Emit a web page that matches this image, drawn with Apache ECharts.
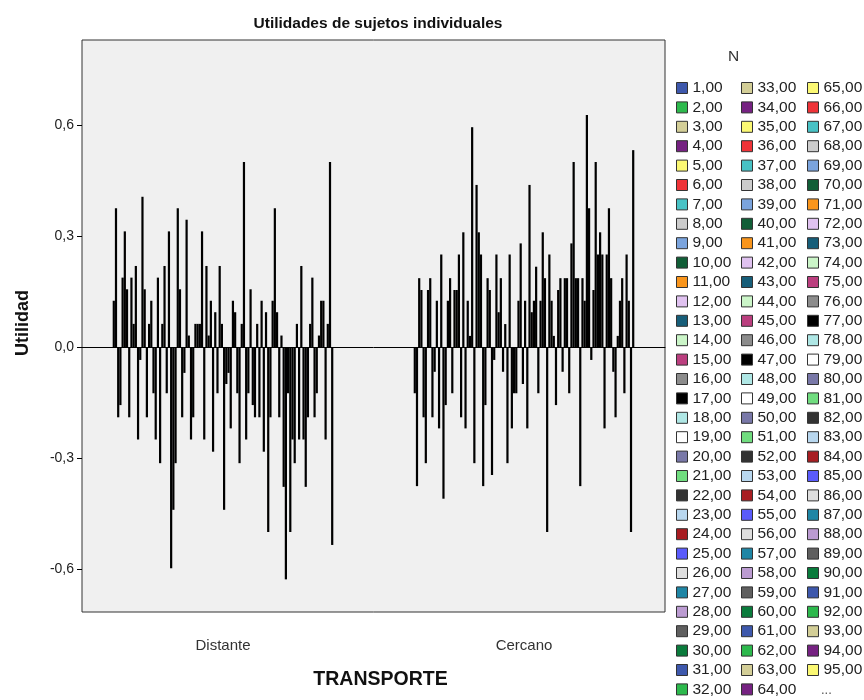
<!DOCTYPE html>
<html><head><meta charset="utf-8">
<script src="https://cdn.jsdelivr.net/npm/echarts@6/dist/echarts.min.js"></script>
<style>html,body{margin:0;padding:0;background:#fff}#c{width:864px;height:700px}</style>
</head><body><div id="c"></div>
<script>
const categories = ['Distante', 'Cercano'];
const subjects = Array.from({length: 100}, (_, i) => i + 1);
const distante = [
  0.125, 0.375, -0.19, -0.157, 0.1875, 0.3125, 0.156, -0.19, 0.1875, 0.0625,
  0.219, -0.25, -0.035, 0.406, 0.156, -0.19, 0.0625, 0.125, -0.125, -0.25,
  0.1875, -0.314, 0.0625, 0.219, -0.125, 0.3125, -0.598, -0.44, -0.314, 0.375,
  0.156, -0.19, -0.07, 0.344, 0.031, -0.25, -0.19, 0.0625, 0.0625, 0.0625,
  0.3125, -0.25, 0.219, 0.031, 0.125, -0.283, 0.094, -0.125, 0.219, 0.0625,
  -0.44, -0.1, -0.07, -0.22, 0.125, 0.094, -0.125, -0.314, 0.0625, 0.5,
  -0.25, -0.125, 0.156, -0.157, -0.19, 0.0625, -0.19, 0.125, -0.283, 0.094,
  -0.5, -0.19, 0.125, 0.375, 0.094, -0.19, 0.031, -0.378, -0.628, -0.125,
  -0.5, -0.25, -0.314, 0.0625, -0.25, 0.219, -0.25, -0.378, -0.19, 0.0625,
  0.1875, -0.19, -0.125, 0.031, 0.125, 0.125, -0.25, 0.0625, 0.5, -0.535
];
const cercano = [
  -0.125, -0.376, 0.186, 0.154, -0.19, -0.314, 0.154, 0.186, -0.19, -0.067,
  0.125, -0.22, 0.25, -0.41, -0.157, 0.125, 0.186, -0.125, 0.154, 0.154,
  0.25, -0.19, 0.31, -0.22, 0.125, 0.03, 0.594, -0.314, 0.438, 0.31,
  0.25, -0.376, -0.157, 0.186, 0.154, -0.346, -0.035, 0.25, 0.094, 0.186,
  -0.067, 0.062, -0.314, 0.25, -0.22, -0.125, -0.125, 0.125, 0.28, -0.1,
  0.125, -0.22, 0.438, 0.094, 0.125, 0.217, -0.125, 0.125, 0.31, 0.186,
  -0.5, 0.25, 0.125, 0.03, -0.157, 0.154, 0.186, -0.067, 0.186, 0.186,
  -0.125, 0.28, 0.5, 0.186, 0.186, -0.376, 0.186, 0.125, 0.627, 0.375,
  -0.035, 0.154, 0.5, 0.25, 0.31, 0.25, -0.22, 0.25, 0.375, 0.186,
  -0.067, -0.19, 0.03, 0.125, 0.186, -0.125, 0.25, 0.125, -0.5, 0.532
];
const yTicks = [-0.6, -0.3, 0, 0.3, 0.6];
const yMin = -0.7162, yMax = 0.8297;
const palette = [
  '#3e58ac', '#2db94d', '#d3ce97', '#762282', '#fbf873', '#ef3338',
  '#48c2c5', '#cccccc', '#7ba4dd', '#115e37', '#f9951c', '#e0c2f0',
  '#175e79', '#cbf5c8', '#bb3f7f', '#8c8c8c', '#000000', '#afe7e5',
  '#ffffff', '#7978a8', '#70dd7f', '#333333', '#b8d7ef', '#a81d22',
  '#5a5bfb', '#dedede', '#1f86a5', '#bb9bd1', '#5f5f5f', '#0a7b3c'
];
const legendColumns = [[1, 32], [33, 64], [65, 95]];
const legendLefts = [676, 741, 807];

const FONT = '"Liberation Sans", Arial, sans-serif';
const fmt = v => (Math.abs(v) < 1e-9 ? 0 : v).toFixed(1).replace('.', ',');
const subjName = n => n.toFixed(2).replace('.', ',');

const series = subjects.map((s, i) => ({
  type: 'bar',
  name: subjName(s),
  xAxisIndex: 0, yAxisIndex: 0,
  data: [distante[i], cercano[i]],
  barGap: '0%',
  barCategoryGap: '26.7%',
  itemStyle: {color: palette[i % palette.length], borderColor: '#000', borderWidth: 1.3},
  emphasis: {disabled: true},
  animation: false
}));

const legends = legendColumns.map((c, k) => ({
  data: subjects.filter(s => s >= c[0] && s <= c[1]).map(subjName),
  orient: 'vertical',
  left: legendLefts[k], top: 80,
  padding: 0,
  itemWidth: 11, itemHeight: 11, itemGap: 3.4,
  selectedMode: false,
  icon: 'rect',
  itemStyle: {borderColor: '#333', borderWidth: 1},
  textStyle: {fontFamily: FONT, fontSize: 15.5, lineHeight: 16, color: '#222'}
}));

const chart = echarts.init(document.getElementById('c'), null, {renderer: 'canvas'});
chart.setOption({
  animation: false,
  backgroundColor: '#ffffff',
  textStyle: {fontFamily: FONT},
  title: {
    text: 'Utilidades de sujetos individuales',
    left: 373, top: 11, textAlign: 'center',
    textStyle: {fontFamily: FONT, fontSize: 15.5, fontWeight: 'bold', color: '#111'}
  },
  legend: legends,
  grid: [
    {left: 72.5, width: 602, top: 40, height: 572, containLabel: false},
    {left: 82, width: 583, top: 40, height: 572, show: true, backgroundColor: '#f0f0f0',
     borderColor: '#333', borderWidth: 1, containLabel: false}
  ],
  xAxis: [
    {gridIndex: 0, type: 'category', data: categories,
     axisLine: {show: false}, axisTick: {show: false},
     axisLabel: {fontSize: 15, margin: 26, color: '#333', fontFamily: FONT},
     name: 'TRANSPORTE', nameLocation: 'middle', nameGap: 58,
     nameTextStyle: {fontFamily: FONT, fontWeight: 'bold', fontSize: 19.5, color: '#111', padding: [0, 0, 0, 14]}},
    {gridIndex: 1, type: 'value', min: 0, max: 1,
     axisLine: {show: true, onZero: true, lineStyle: {color: '#000', width: 1}},
     axisTick: {show: false}, axisLabel: {show: false}, splitLine: {show: false}}
  ],
  yAxis: [
    {gridIndex: 0, type: 'value', min: yMin, max: yMax, show: false},
    {gridIndex: 1, type: 'value', min: yMin, max: yMax,
     axisLine: {show: false},
     axisTick: {show: true, length: 5, customValues: yTicks, lineStyle: {color: '#000'}},
     axisLabel: {customValues: yTicks, formatter: fmt, fontSize: 14, color: '#222', margin: 8, fontFamily: FONT},
     splitLine: {show: false},
     name: 'Utilidad', nameLocation: 'middle', nameGap: 50,
     nameTextStyle: {fontFamily: FONT, fontWeight: 'bold', fontSize: 18, color: '#111', padding: [0, 0, 0, 6]}}
  ],
  graphic: [
    {type: 'text', left: 728, top: 49, style: {text: 'N', fontFamily: FONT, fontSize: 15.5, fill: '#333'}},
    {type: 'text', left: 821, top: 684, style: {text: '...', fontFamily: FONT, fontSize: 13, fill: '#555'}}
  ],
  series: series
});
</script>
</body></html>
